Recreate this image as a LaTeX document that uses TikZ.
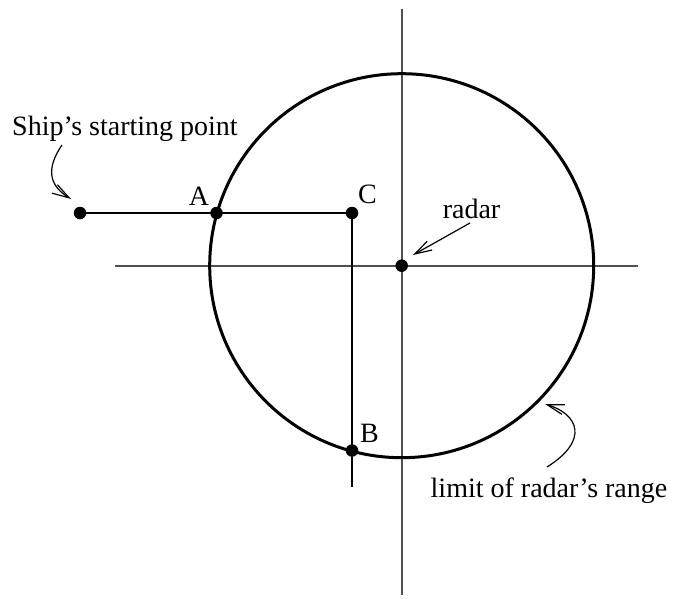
\documentclass[tikz,border=0pt]{standalone}
\usepackage{fontspec}
\setmainfont{Liberation Serif}
\usepackage{xcolor}
\usetikzlibrary{arrows.meta}
\definecolor{axisgray}{RGB}{80,80,80}

\begin{document}
\begin{tikzpicture}[x=1pt, y=-1pt,
  axis/.style={draw=axisgray, line width=1.8pt},
  rim/.style={draw=black, line width=3pt},
  track/.style={draw=black, line width=1.6pt},
  dot/.style={circle, fill=black, inner sep=0pt, minimum size=12.5pt},
  lbl/.style={anchor=base, inner sep=0pt, font=\fontsize{28}{32}\selectfont},
  arr/.style={-{Straight Barb[length=17pt, width=10pt]}, line width=1.2pt}]
\useasboundingbox (0,0) rectangle (674,599);

\coordinate (o) at (401.7,265.7);
\coordinate (xl) at (115,265.7);
\coordinate (xr) at (638,265.7);
\coordinate (yt) at (401.7,9);
\coordinate (yb) at (401.7,595);
\coordinate (cb) at (352,487);

\draw[axis] (xl) -- (xr);
\draw[axis] (yt) -- (yb);
\draw[rim] (o) circle[radius=192];

\node[dot] (ship) at (80,213) {};
\node[dot] (pa) at (216.5,213) {};
\node[dot] (pc) at (352,213) {};
\node[dot] (pb) at (352,450.5) {};
\node[dot] (radar) at (o) {};

\draw[track] (ship) -- (pc);
\draw[track] (pc) -- (cb);

\node[lbl] (la) at (199,205) {A};
\node[lbl] (lc) at (367.5,203) {C};
\node[lbl] (lb) at (369.5,442) {B};
\node[lbl] (lr) at (471.5,218) {radar};
\node[lbl] (ls) at (125,135.7) {Ship's starting point};
\node[lbl] (ll) at (549,497.3) {limit of radar's range};

\coordinate (s0) at (62,145);
\coordinate (s1) at (71,199);
\coordinate (r0) at (470,223);
\coordinate (r1) at (413,255);
\coordinate (l0) at (547,467);
\coordinate (l1) at (545,404);

\draw[arr] (s0) .. controls (45,170) and (50,186) .. (s1);
\draw[arr] (r0) -- (r1);
\draw[arr] (l0) .. controls (590,440) and (578,414) .. (l1);
\end{tikzpicture}
\end{document}
